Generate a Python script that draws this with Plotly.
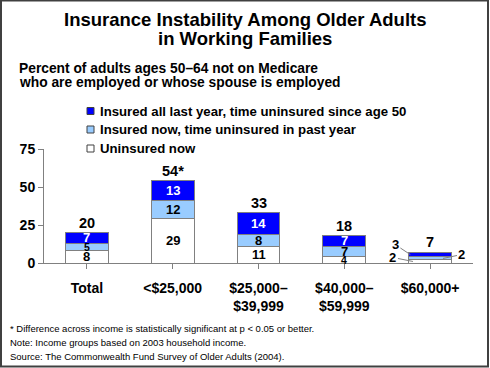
import plotly.graph_objects as go

# ---- data ----
categories = ["Total", "<$25,000", "$25,000–<br>$39,999", "$40,000–<br>$59,999", "$60,000+"]
series_names = [
    "Uninsured now",
    "Insured now, time uninsured in past year",
    "Insured all last year, time uninsured since age 50",
]
uninsured_now = [8, 29, 11, 4, 2]
uninsured_past_year = [5, 12, 8, 7, 2]
uninsured_since_50 = [7, 13, 14, 7, 3]
significance = ["", "*", "", "", ""]
y_ticks = [0, 25, 50, 75]

title_lines = ["Insurance Instability Among Older Adults", "in Working Families"]
subtitle_lines = ["Percent of adults ages 50–64 not on Medicare",
                  "who are employed or whose spouse is employed"]
footnotes = [
    "* Difference across income is statistically significant at p < 0.05 or better.",
    "Note: Income groups based on 2003 household income.",
    "Source: The Commonwealth Fund Survey of Older Adults (2004).",
]

# ---- styling ----
W, H = 490, 368
L, R, T, B = 44, 17, 149, 105
BOLD = "Liberation Sans, Arial, sans-serif"
FONT = "Liberation Sans, Arial, sans-serif"
colors = ["#FFFFFF", "#99CCFF", "#0000FF"]
text_colors = ["#000000", "#000000", "#FFFFFF"]
series = [uninsured_now, uninsured_past_year, uninsured_since_50]


def px(x):
    return (x - L) / (W - L - R)


def py(y):
    return (H - B - y) / (H - T - B)


fig = go.Figure()
xs = list(range(len(categories)))
for name, vals, col in zip(series_names, series, colors):
    fig.add_trace(go.Bar(
        x=xs, y=vals, name=name, width=0.5,
        marker=dict(color=col, line=dict(color="#808080", width=1)),
        showlegend=False, hoverinfo="skip",
    ))

annotations = []
shapes = []

# segment labels
small_idx = len(categories) - 1
for i in xs:
    base = 0
    for s, vals in enumerate(series):
        v = vals[i]
        mid = base + v / 2
        if i != small_idx:
            annotations.append(dict(
                x=i, y=mid, xref="x", yref="y", text=f"<b>{v}</b>", showarrow=False,
                font=dict(family=BOLD, size=13 if v >= 6 else 10.5, color=text_colors[s]),
                yanchor="middle"))
        base += v
    total = base
    annotations.append(dict(
        x=i, y=total, xref="x", yref="y", text=f"<b>{total}{significance[i]}</b>",
        showarrow=False, yshift=10, yanchor="middle",
        font=dict(family=BOLD, size=14.5, color="#000000")))

# leader-line labels for the small bar
i = small_idx
b0 = uninsured_now[i]
b1 = b0 + uninsured_past_year[i]
b2 = b1 + uninsured_since_50[i]
leader = [
    (i - 0.2, b0 / 2, uninsured_now[i], -20, -4),
    (i + 0.15, (b0 + b1) / 2, uninsured_past_year[i], 19, -4),
    (i - 0.23, (b1 + b2) / 2, uninsured_since_50[i], -15, -10),
]
for xx, yy, v, ax, ay in leader:
    annotations.append(dict(
        x=xx, y=yy, xref="x", yref="y", text=f"<b>{v}</b>", showarrow=True,
        arrowhead=0, arrowwidth=1, arrowcolor="#808080", ax=ax, ay=ay,
        font=dict(family=BOLD, size=13, color="#000000")))

# titles
for k, line in enumerate(title_lines):
    annotations.append(dict(
        x=px(245), y=py(19 + k * 19.5), xref="paper", yref="paper", text=f"<b>{line}</b>",
        showarrow=False, xanchor="center", yanchor="middle",
        font=dict(family=BOLD, size=18.5, color="#000000")))
for k, line in enumerate(subtitle_lines):
    annotations.append(dict(
        x=px(17), y=py(68 + k * 14.5), xref="paper", yref="paper", text=f"<b>{line}</b>",
        showarrow=False, xanchor="left", yanchor="middle",
        font=dict(family=BOLD, size=13.8, color="#000000")))

# manual legend (top row = last series)
legend_rows = [111, 129.5, 148.5]
for row, s in zip(legend_rows, reversed(range(len(series_names)))):
    shapes.append(dict(type="rect", xref="paper", yref="paper",
                       x0=px(87), x1=px(94), y0=py(row - 3.5), y1=py(row + 3.5),
                       fillcolor=colors[s], line=dict(color="#404040", width=1)))
    annotations.append(dict(
        x=px(98), y=py(row), xref="paper", yref="paper", text=f"<b>{series_names[s]}</b>",
        showarrow=False, xanchor="left", yanchor="middle",
        font=dict(family=BOLD, size=13.2, color="#000000")))

# footnotes
for k, line in enumerate(footnotes):
    annotations.append(dict(
        x=px(8), y=py(328 + k * 14), xref="paper", yref="paper", text=line,
        showarrow=False, xanchor="left", yanchor="middle",
        font=dict(family=FONT, size=9.5, color="#000000")))

# frame
shapes.append(dict(type="rect", xref="paper", yref="paper",
                   x0=px(1), x1=px(488), y0=py(366.5), y1=py(0.5),
                   line=dict(color="#404040", width=2), fillcolor="rgba(0,0,0,0)", layer="above"))

fig.update_layout(
    width=W, height=H,
    margin=dict(l=L, r=R, t=T, b=B, pad=0),
    barmode="stack",
    plot_bgcolor="white", paper_bgcolor="white",
    font=dict(family=FONT, color="#000000"),
    showlegend=False,
    annotations=annotations,
    shapes=shapes,
    xaxis=dict(
        range=[-0.5, len(categories) - 0.5],
        tickmode="array", tickvals=xs, ticktext=[f"<b>{c}</b>" for c in categories],
        tickson="boundaries", ticks="outside", ticklen=5, tickcolor="#808080",
        showline=True, linecolor="#808080", linewidth=1,
        showgrid=False, zeroline=False,
        tickfont=dict(family=BOLD, size=14, color="#000000"),
        ticklabelstandoff=7, fixedrange=True,
    ),
    yaxis=dict(
        range=[0, 75], tickmode="array", tickvals=y_ticks,
        ticktext=[f"<b>{t}</b>" for t in y_ticks],
        ticks="outside", ticklen=5, tickcolor="#808080",
        showline=True, linecolor="#808080", linewidth=1,
        showgrid=False, zeroline=False,
        tickfont=dict(family=BOLD, size=14, color="#000000"),
        fixedrange=True,
    ),
)

fig.write_html(
    "out.html",
    config={"displayModeBar": False},
    post_script="document.body.style.margin='0';document.body.style.overflow='hidden';",
)
